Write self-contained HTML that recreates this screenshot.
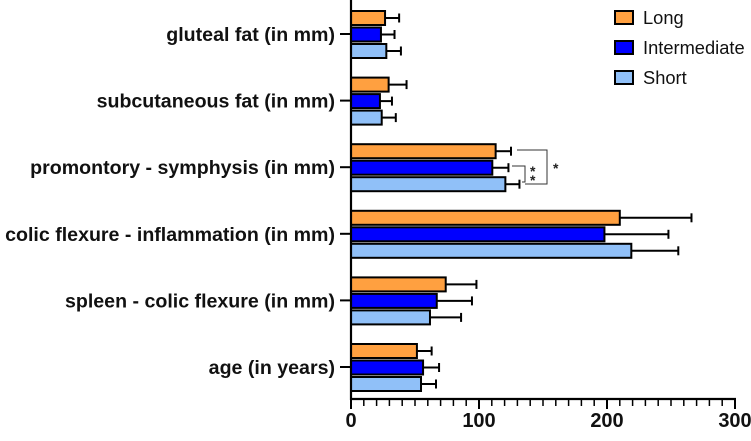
<!DOCTYPE html>
<html><head><meta charset="utf-8"><style>
body{margin:0;background:#fff}
svg text{font-family:"Liberation Sans",Arial,sans-serif}
</style></head><body>
<svg id="chart" width="751" height="436" xmlns="http://www.w3.org/2000/svg"></svg>
<script>
const categories=["gluteal fat (in mm)","subcutaneous fat (in mm)","promontory - symphysis (in mm)","colic flexure - inflammation (in mm)","spleen - colic flexure (in mm)","age (in years)"];
const seriesNames=["Long","Intermediate","Short"];
const longVals=[26.6,29.4,113,210,74,51.5];
const longErr=[11,14,12,56,24,11.5];
const interVals=[23.4,22.6,110.4,198,67,56.3];
const interErr=[10.6,9.4,12.6,50,27.5,12.5];
const shortVals=[27.6,24,120.6,219,61.7,54.7];
const shortErr=[11.4,11,11,36.7,24.3,11.7];
const xTicks=[0,100,200,300];
const colors=["#FFA040","#0000FF","#90C0F8"];
const NS="http://www.w3.org/2000/svg";
const svg=document.getElementById("chart");
const x0=351,scale=1.28,axisY=399;
const xs=v=>x0+v*scale;
const catY=i=>34+i*66.6;
function el(t,a,p){const e=document.createElementNS(NS,t);for(const k in a)e.setAttribute(k,a[k]);(p||svg).appendChild(e);return e;}
const all=[[longVals,longErr],[interVals,interErr],[shortVals,shortErr]];
categories.forEach((c,i)=>{
  const cy=catY(i);
  const t=el("text",{x:335,y:cy+7,"text-anchor":"end","font-size":"19.6","font-weight":"bold",fill:"#111"});
  t.textContent=c;
  
  
  const tk=el("line",{x1:340,x2:x0,y1:cy,y2:cy,stroke:"#000","stroke-width":2});
  
  
  all.forEach((s,j)=>{
    const by=cy-23+j*16.5;
    const v=s[0][i],e=s[1][i];
    const ey=by+7;
    const ln=el("line",{x1:xs(v),x2:xs(v+e),y1:ey,y2:ey,stroke:"#000","stroke-width":2});
    
    
    const cap=el("line",{x1:xs(v+e),x2:xs(v+e),y1:ey-4.5,y2:ey+4.5,stroke:"#000","stroke-width":2});
    
    
    const r=el("rect",{x:x0,y:by,width:v*scale,height:14,fill:colors[j],stroke:"#000","stroke-width":2});
    
    
  });
});
const ax=el("line",{x1:x0,x2:x0,y1:0,y2:axisY+1,stroke:"#000","stroke-width":2.2});


const xa=el("line",{x1:x0-1,x2:xs(300)+1,y1:axisY,y2:axisY,stroke:"#000","stroke-width":2.2});


for(let v=0;v<=300;v+=10){
  const major=v%100===0;
  const m=el("line",{x1:xs(v),x2:xs(v),y1:axisY,y2:axisY+(major?10:7),stroke:"#000","stroke-width":major?2:1.5});
  
  
}
xTicks.forEach(v=>{
  const t=el("text",{x:xs(v),y:427,"text-anchor":"middle","font-size":"20","font-weight":"bold",fill:"#111"});
  t.textContent=v;
  
  
});
const g=el("g",{stroke:"#333","stroke-width":1,fill:"none"});


el("polyline",{points:"517,150 547,150 547,184 525,184"},g);
el("polyline",{points:"512,166 525,166 525,182 522,182"},g);
const s1=el("text",{x:553,y:173,"font-size":"14","font-weight":"bold",fill:"#222"});s1.textContent="*";


const s2=el("text",{x:530,y:176,"font-size":"14","font-weight":"bold",fill:"#222"});s2.textContent="*";


const s3=el("text",{x:530,y:185,"font-size":"14","font-weight":"bold",fill:"#222"});s3.textContent="*";


seriesNames.forEach((n,j)=>{
  const y=11+j*30;
  const r=el("rect",{x:615,y:y,width:18,height:13,fill:colors[j],stroke:"#000","stroke-width":2});
  
  
  const t=el("text",{x:643,y:y+13,"font-size":"18.3",fill:"#111"});
  t.textContent=n;
  
  
});
</script>
</body></html>
